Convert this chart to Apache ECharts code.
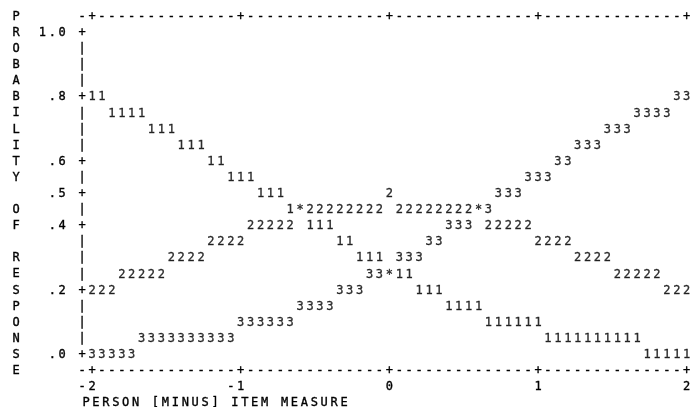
<!DOCTYPE html>
<html>
<head>
<meta charset="utf-8">
<script src="https://cdn.jsdelivr.net/npm/echarts@6/dist/echarts.min.js"></script>
<style>
html,body{margin:0;padding:0;background:#fff;}
#c{width:693px;height:411px;}
#c svg{will-change:transform;}
#c svg text{letter-spacing:2.7px;}
</style>
</head>
<body>
<div id="c"></div>
<script>
// ---- data ----
const xTickValues = [-2, -1, 0, 1, 2];
const xTickLabels = ['-2', '-1', '0', '1', '2'];
const yTickValues = [0, 0.2, 0.4, 0.5, 0.6, 0.8, 1.0];
const yTickLabels = ['.0', '.2', '.4', '.5', '.6', '.8', '1.0'];
const xTitle = 'PERSON [MINUS] ITEM MEASURE';
const yTitle = 'PROBABILITY OF RESPONSE';
const categories = ['1', '2', '3'];
const colsPerUnit = 15;      // plot columns per logit
const rowStep = 0.05;        // plot rows step in probability
const xMeasures = Array.from({length: 61}, (_, i) => xTickValues[0] + i / colsPerUnit);

const cat1 = [.80,.80, .75,.75,.75,.75, .70,.70,.70, .65,.65,.65, .60,.60, .55,.55,.55,
  .50,.50,.50, .45,.45, .40,.40,.40, .35,.35, .30,.30,.30, .25,.25,.25, .20,.20,.20,
  .15,.15,.15,.15, .10,.10,.10,.10,.10,.10, .05,.05,.05,.05,.05,.05,.05,.05,.05,.05,
  .00,.00,.00,.00,.00];
const cat2 = [.20,.20,.20, .25,.25,.25,.25,.25, .30,.30,.30,.30, .35,.35,.35,.35,
  .40,.40,.40,.40,.40, .45,.45,.45,.45,.45,.45,.45,.45,.45, .50,
  .45,.45,.45,.45,.45,.45,.45,.45,.45, .40,.40,.40,.40,.40, .35,.35,.35,.35,
  .30,.30,.30,.30, .25,.25,.25,.25,.25, .20,.20,.20];
const cat3 = [.00,.00,.00,.00,.00, .05,.05,.05,.05,.05,.05,.05,.05,.05,.05,
  .10,.10,.10,.10,.10,.10, .15,.15,.15,.15, .20,.20,.20, .25,.25,.25, .30,.30,.30,
  .35,.35, .40,.40,.40, .45,.45, .50,.50,.50, .55,.55,.55, .60,.60, .65,.65,.65,
  .70,.70,.70, .75,.75,.75,.75, .80,.80];

// ---- build ----
const FONT = 'DejaVu Sans Mono';
const FS = 12;
const txt = {fontFamily: FONT, fontSize: FS, color: '#000', textBorderColor: '#000', textBorderWidth: 0.35};
const nCols = xMeasures.length;
const rowOf = p => Math.round(p / rowStep);
const nRows = rowOf(1);
const tickCols = xTickValues.map(x => Math.round((x - xTickValues[0]) * colsPerUnit));
const tickRows = yTickValues.map(rowOf);

const seriesVals = [cat1, cat2, cat3];
const taken = {};
const seriesData = seriesVals.map((vals, s) => vals.map((p, i) => {
  const key = i + ':' + rowOf(p);
  if (taken[key]) return {value: [xMeasures[i], p], label: {show: false}};
  taken[key] = true;
  const n = seriesVals.filter(v => rowOf(v[i]) === rowOf(p)).length;
  return {value: [xMeasures[i], p], label: {show: true, formatter: n > 1 ? '*' : categories[s]}};
}));

const frameX = v => tickCols.includes(Math.round(v)) ? '+' : '-';
const frameY = v => { const r = rowOf(v); if (r < 0 || r > nRows) return ''; return tickRows.includes(r) ? '+' : '|'; };
const frameYRight = v => { const r = rowOf(v); return tickRows.includes(r) ? '+' : ''; };
const padC = s => s + '\u00A0'.repeat(s.length - 1);
const tickX = v => { const k = tickCols.indexOf(Math.round(v)); return k >= 0 ? padC(xTickLabels[k]) : ''; };
const tickY = v => { const k = tickRows.indexOf(rowOf(v)); return k >= 0 ? yTickLabels[k] : ''; };

const gridRect = {left: 83.45, top: 15.9, width: 614.5, height: 354.2, outerBoundsMode: 'none', containLabel: false};
const off = {show: false};
const colAxis = (grid, pos, fmt, margin) => ({
  type: 'value', gridIndex: grid, position: pos, min: -1, max: nCols, interval: 1,
  axisLine: off, axisTick: off, splitLine: off,
  axisLabel: Object.assign({formatter: fmt, margin: margin, align: 'center', verticalAlign: 'middle',
    showMinLabel: true, showMaxLabel: true}, txt)
});
const probAxis = (grid, pos, fmt, margin, align) => ({
  type: 'value', gridIndex: grid, position: pos, min: -rowStep, max: 1 + rowStep, interval: rowStep,
  axisLine: off, axisTick: off, splitLine: off,
  axisLabel: Object.assign({formatter: fmt, margin: margin, align: align, verticalAlign: 'middle',
    showMinLabel: true, showMaxLabel: true}, txt)
});

const chart = echarts.init(document.getElementById('c'), null, {renderer: 'svg'});
chart.setOption({
  animation: false,
  backgroundColor: 'transparent',
  title: [
    {text: yTitle.split('').join('\n'), left: 12.4, top: 7.85, padding: 0,
     textStyle: Object.assign({fontWeight: 'normal', lineHeight: 16.1}, txt)},
    {text: xTitle, left: 82.4, top: 394, padding: 0,
     textStyle: Object.assign({fontWeight: 'normal', lineHeight: 16}, txt)}
  ],
  grid: [Object.assign({}, gridRect), Object.assign({}, gridRect)],
  xAxis: [
    colAxis(0, 'bottom', frameX, 0),
    colAxis(0, 'top', frameX, 0),
    colAxis(1, 'bottom', tickX, 16),
    {type: 'value', gridIndex: 1, position: 'top', show: false,
     min: xTickValues[0] - 1 / colsPerUnit, max: xTickValues[xTickValues.length - 1] + 1 / colsPerUnit}
  ],
  yAxis: [
    probAxis(0, 'left', frameY, 0, 'center'),
    probAxis(0, 'right', frameYRight, 0, 'center'),
    probAxis(1, 'left', tickY, 14.9, 'right'),
    {type: 'value', gridIndex: 1, position: 'right', show: false, min: -rowStep, max: 1 + rowStep}
  ],
  series: seriesData.map((data, s) => ({
    type: 'scatter', name: categories[s], xAxisIndex: 3, yAxisIndex: 3,
    symbol: 'rect', symbolSize: 1, silent: true,
    itemStyle: {color: 'rgba(0,0,0,0)'},
    label: Object.assign({show: true, position: 'inside'}, txt),
    data: data
  }))
});
</script>
</body>
</html>
